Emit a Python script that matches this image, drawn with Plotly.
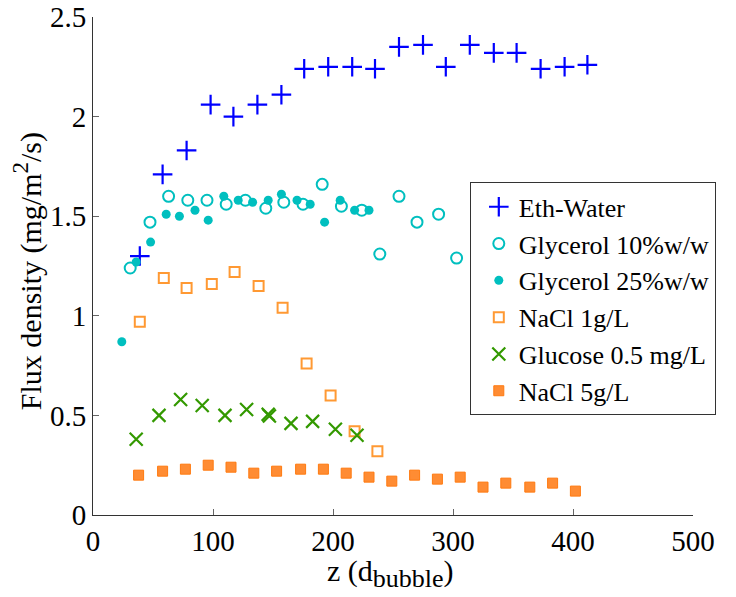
import plotly.graph_objects as go

# ---- data ----
eth_x = [39, 58, 78, 98, 117, 137, 157, 176, 196, 216, 235, 255, 275, 294, 314, 334, 353, 373, 393, 412]
eth_y = [1.30, 1.71, 1.83, 2.06, 2.00, 2.06, 2.11, 2.24, 2.25, 2.25, 2.24, 2.35, 2.36, 2.25, 2.36, 2.32, 2.32, 2.24, 2.25, 2.26]

gly10_x = [31, 47.5, 63, 79, 95, 111, 127, 144, 159, 175, 191, 207, 224, 239, 255, 270, 288, 303]
gly10_y = [1.24, 1.47, 1.60, 1.58, 1.58, 1.56, 1.58, 1.54, 1.57, 1.56, 1.66, 1.55, 1.53, 1.31, 1.60, 1.47, 1.51, 1.29]

gly25_x = [24, 36, 48, 61, 72, 85, 96, 109, 121, 133, 146, 157, 170, 181, 193, 206, 218, 230]
gly25_y = [0.87, 1.27, 1.37, 1.51, 1.50, 1.53, 1.48, 1.60, 1.58, 1.57, 1.58, 1.61, 1.58, 1.56, 1.47, 1.58, 1.53, 1.53]

nacl1_x = [39, 59, 78, 99, 118, 138, 158, 178, 198, 218, 237]
nacl1_y = [0.97, 1.19, 1.14, 1.16, 1.22, 1.15, 1.04, 0.76, 0.60, 0.42, 0.32]

glu_x = [36, 55, 73, 91, 110, 128, 146, 147, 165, 183, 202, 220]
glu_y = [0.38, 0.50, 0.58, 0.55, 0.50, 0.53, 0.505, 0.497, 0.46, 0.47, 0.43, 0.40]

nacl5_x = [38, 58, 77, 96, 115, 134, 153, 173, 192, 211, 230, 249, 268, 287, 306, 325, 344, 364, 383, 402]
nacl5_y = [0.20, 0.22, 0.23, 0.25, 0.24, 0.21, 0.22, 0.23, 0.23, 0.21, 0.19, 0.17, 0.20, 0.18, 0.19, 0.14, 0.16, 0.14, 0.16, 0.12]

x_ticks = [0, 100, 200, 300, 400, 500]
y_ticks = [0, 0.5, 1, 1.5, 2, 2.5]
y_tick_text = ["0", "0.5", "1", "1.5", "2", "2.5"]
x_title = "z (d<sub><span style='font-size:26px'>bubble</span></sub>)"
y_title = "Flux density (mg/m<sup><span style='font-size:23px'>2</span></sup>/s)"

FONT = "Liberation Serif"

fig = go.Figure()
fig.add_trace(go.Scatter(x=eth_x, y=eth_y, mode="markers", name="Eth-Water",
                         marker=dict(symbol="cross-thin-open", size=14, color="#0000FF",
                                     line=dict(width=2.2, color="#0000FF"))))
fig.add_trace(go.Scatter(x=gly10_x, y=gly10_y, mode="markers", name="Glycerol 10%w/w",
                         marker=dict(symbol="circle-open", size=11, color="#00BFBF",
                                     line=dict(width=2, color="#00BFBF"))))
fig.add_trace(go.Scatter(x=gly25_x, y=gly25_y, mode="markers", name="Glycerol 25%w/w",
                         marker=dict(symbol="circle", size=9, color="#00BFBF",
                                     line=dict(width=0))))
fig.add_trace(go.Scatter(x=nacl1_x, y=nacl1_y, mode="markers", name="NaCl 1g/L",
                         marker=dict(symbol="square-open", size=10, color="#FF9933",
                                     line=dict(width=2, color="#FF9933"))))
fig.add_trace(go.Scatter(x=glu_x, y=glu_y, mode="markers", name="Glucose 0.5 mg/L",
                         marker=dict(symbol="x-thin-open", size=13, color="#339900",
                                     line=dict(width=2.2, color="#339900"))))
fig.add_trace(go.Scatter(x=nacl5_x, y=nacl5_y, mode="markers", name="NaCl 5g/L",
                         marker=dict(symbol="square", size=10, color="#FF8C33",
                                     line=dict(width=1, color="#FF7A10"))))

fig.update_layout(
    width=728, height=589,
    margin=dict(l=85, r=43, t=9, b=82, autoexpand=False),
    paper_bgcolor="white", plot_bgcolor="white",
    font=dict(family=FONT, size=28, color="black"),
    showlegend=True,
    legend=dict(x=0.628, y=0.668, xanchor="left", yanchor="top",
                bgcolor="white", bordercolor="#333333", borderwidth=1,
                font=dict(family=FONT, size=26, color="black"),
                tracegroupgap=0, itemsizing="trace", indentation=8),
    annotations=[
        dict(text=x_title, xref="paper", yref="paper", x=0.495, y=-0.074,
             xanchor="center", yanchor="top", showarrow=False,
             font=dict(family=FONT, size=30, color="black")),
        dict(text=y_title, xref="paper", yref="paper", x=-0.108, y=0.49,
             xanchor="center", yanchor="middle", textangle=-90, showarrow=False,
             font=dict(family=FONT, size=30, color="black")),
    ],
)
fig.update_xaxes(range=[0, 500], tickvals=x_ticks, ticks="inside", ticklen=6,
                 tickcolor="#666666", showline=True, linecolor="#333333", linewidth=1,
                 showgrid=False, zeroline=False, mirror=False, automargin=False,
                 ticklabeloverflow="allow", tickfont=dict(family=FONT, size=29))
fig.update_yaxes(range=[0, 2.5], tickvals=y_ticks, ticktext=y_tick_text, ticks="inside", ticklen=6,
                 tickcolor="#666666", showline=True, linecolor="#333333", linewidth=1,
                 showgrid=False, zeroline=False, mirror=False, automargin=False,
                 ticklabeloverflow="allow", tickfont=dict(family=FONT, size=29))

fig.write_html("out.html")
